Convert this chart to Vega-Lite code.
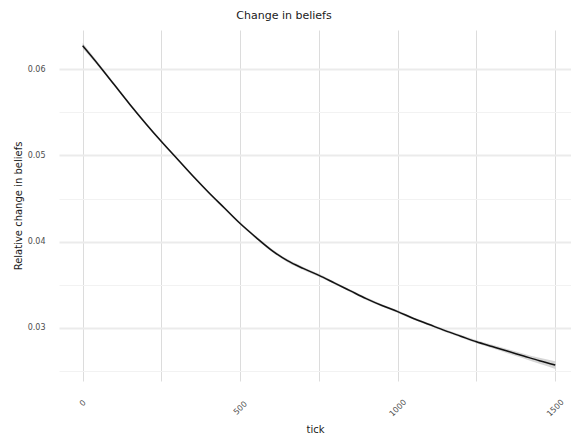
{
  "$schema": "https://vega.github.io/schema/vega-lite/v6.json",
  "width": 512,
  "height": 351,
  "autosize": {"type": "none"},
  "padding": {"left": 59, "top": 30, "right": 0, "bottom": 56},
  "background": "white",
  "config": {
    "view": {"stroke": null},
    "font": "DejaVu Sans"
  },
  "title": {
    "text": "Change in beliefs",
    "fontSize": 11,
    "fontWeight": "normal",
    "color": "#1a1a1a",
    "font": "DejaVu Sans",
    "anchor": "middle",
    "baseline": "alphabetic",
    "offset": 0,
    "dx": -31
  },
  "data": {
    "values": [
      {"tick": 0, "y": 0.0627, "lo": 0.0624, "hi": 0.0630},
      {"tick": 50, "y": 0.0605, "lo": 0.06028, "hi": 0.06072},
      {"tick": 100, "y": 0.0582, "lo": 0.05803, "hi": 0.05837},
      {"tick": 150, "y": 0.0559, "lo": 0.05575, "hi": 0.05605},
      {"tick": 200, "y": 0.0537, "lo": 0.05355, "hi": 0.05385},
      {"tick": 250, "y": 0.0516, "lo": 0.05145, "hi": 0.05175},
      {"tick": 300, "y": 0.0496, "lo": 0.04945, "hi": 0.04975},
      {"tick": 350, "y": 0.0476, "lo": 0.04745, "hi": 0.04775},
      {"tick": 400, "y": 0.0457, "lo": 0.04555, "hi": 0.04585},
      {"tick": 450, "y": 0.0439, "lo": 0.04375, "hi": 0.04405},
      {"tick": 500, "y": 0.0421, "lo": 0.04195, "hi": 0.04225},
      {"tick": 550, "y": 0.0405, "lo": 0.04035, "hi": 0.04065},
      {"tick": 600, "y": 0.0390, "lo": 0.03883, "hi": 0.03917},
      {"tick": 650, "y": 0.0378, "lo": 0.03762, "hi": 0.03798},
      {"tick": 700, "y": 0.0369, "lo": 0.03672, "hi": 0.03708},
      {"tick": 750, "y": 0.0361, "lo": 0.03593, "hi": 0.03627},
      {"tick": 800, "y": 0.0352, "lo": 0.03505, "hi": 0.03535},
      {"tick": 850, "y": 0.0343, "lo": 0.03415, "hi": 0.03445},
      {"tick": 900, "y": 0.0334, "lo": 0.03325, "hi": 0.03355},
      {"tick": 950, "y": 0.0326, "lo": 0.03245, "hi": 0.03275},
      {"tick": 1000, "y": 0.0319, "lo": 0.03175, "hi": 0.03205},
      {"tick": 1050, "y": 0.0311, "lo": 0.03095, "hi": 0.03125},
      {"tick": 1100, "y": 0.0304, "lo": 0.03025, "hi": 0.03055},
      {"tick": 1150, "y": 0.0297, "lo": 0.02955, "hi": 0.02985},
      {"tick": 1200, "y": 0.02905, "lo": 0.02889, "hi": 0.02921},
      {"tick": 1250, "y": 0.0284, "lo": 0.02822, "hi": 0.02858},
      {"tick": 1300, "y": 0.02785, "lo": 0.02765, "hi": 0.02805},
      {"tick": 1350, "y": 0.0273, "lo": 0.02706, "hi": 0.02754},
      {"tick": 1400, "y": 0.02675, "lo": 0.02647, "hi": 0.02703},
      {"tick": 1450, "y": 0.0262, "lo": 0.02585, "hi": 0.02655},
      {"tick": 1500, "y": 0.0257, "lo": 0.02525, "hi": 0.02615}
    ]
  },
  "encoding": {
    "x": {
      "field": "tick",
      "type": "quantitative",
      "scale": {"domain": [-75, 1550], "nice": false, "zero": false},
      "axis": {
        "values": [0, 250, 500, 750, 1000, 1250, 1500],
        "format": "d",
        "labelExpr": "datum.value % 500 === 0 ? datum.label : ''",
        "grid": true,
        "gridColor": "#dcdcdc",
        "gridWidth": 1,
        "domain": false,
        "ticks": false,
        "labelAngle": -45,
        "labelAlign": "center",
        "labelBaseline": "middle",
        "labelPadding": {"condition": {"test": "datum.value == 0", "value": 22}, "value": 27},
        "labelFontSize": 8,
        "labelColor": "#4d4d4d",
        "labelFont": "DejaVu Sans",
        "title": "tick",
        "titleFontSize": 10,
        "titleFontWeight": "normal",
        "titleColor": "#1a1a1a",
        "titleFont": "DejaVu Sans",
        "titleBaseline": "alphabetic",
        "titleY": 51
      }
    }
  },
  "layer": [
    {
      "mark": {"type": "area", "color": "#999999", "opacity": 0.4, "interpolate": "monotone"},
      "encoding": {
        "y": {
          "field": "lo",
          "type": "quantitative",
          "scale": {"domain": [0.02386, 0.06452], "nice": false, "zero": false},
          "axis": {
            "values": [0.025, 0.03, 0.035, 0.04, 0.045, 0.05, 0.055, 0.06],
            "labelExpr": "abs(round(datum.value*100) - datum.value*100) < 0.001 ? format(datum.value, '.2f') : ''",
            "grid": true,
            "gridColor": {"condition": {"test": "abs(round(datum.value*100) - datum.value*100) < 0.001", "value": "#ebebeb"}, "value": "#f2f2f2"},
            "gridWidth": {"condition": {"test": "abs(round(datum.value*100) - datum.value*100) < 0.001", "value": 1.8}, "value": 1},
            "domain": false,
            "ticks": false,
            "labelPadding": 14,
            "labelFontSize": 8,
            "labelColor": "#4d4d4d",
            "labelFont": "DejaVu Sans",
            "title": "Relative change in beliefs",
            "titleFontSize": 10,
            "titleFontWeight": "normal",
            "titleColor": "#1a1a1a",
            "titleFont": "DejaVu Sans",
            "titleBaseline": "alphabetic",
            "titleX": -38
          }
        },
        "y2": {"field": "hi"}
      }
    },
    {
      "mark": {"type": "line", "color": "#111111", "strokeWidth": 1.5, "interpolate": "monotone"},
      "encoding": {
        "y": {"field": "y", "type": "quantitative"}
      }
    }
  ]
}
